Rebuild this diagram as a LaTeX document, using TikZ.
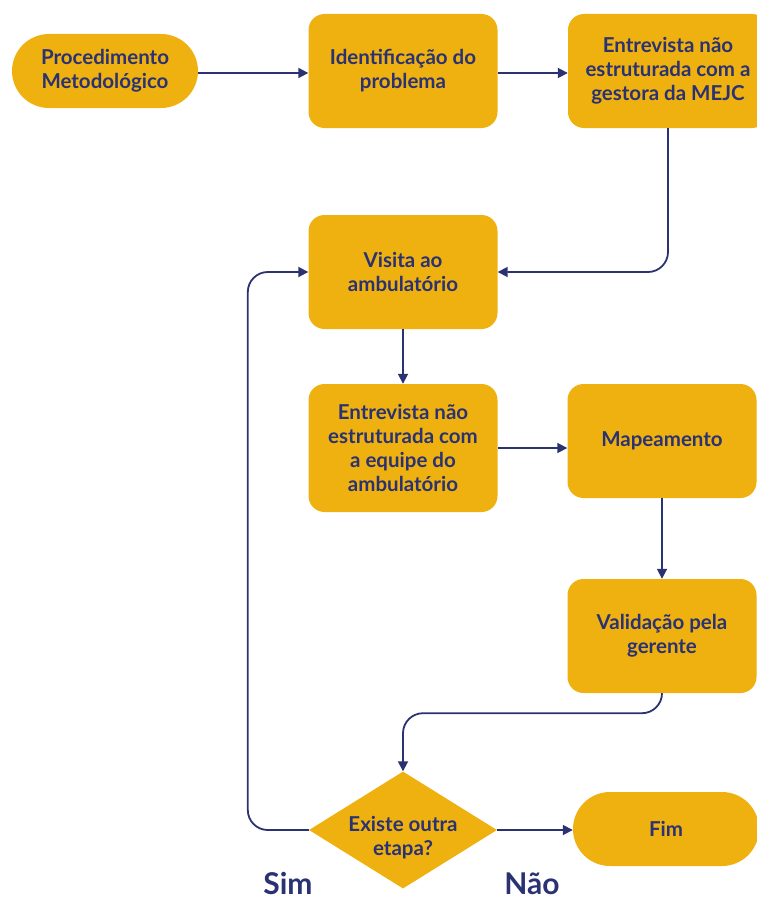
\documentclass[tikz,border=0pt]{standalone}
\usepackage{fontspec}
\setmainfont{Lato}
\usetikzlibrary{shapes.geometric,arrows.meta}
\definecolor{boxfill}{HTML}{EFB110}
\definecolor{ink}{HTML}{2B3272}

\begin{document}
\begin{tikzpicture}[x=1pt,y=-1pt,
  words/.style={text=ink, font=\bfseries\fontsize{20.5}{24}\selectfont, align=center, inner sep=0pt},
  base/.style={words, fill=boxfill},
  stepbox/.style={base, rounded corners=16pt, minimum width=189pt, minimum height=114pt},
  term/.style={base, rounded corners=37pt, minimum width=186pt, minimum height=74pt},
  choice/.style={fill=boxfill, diamond, inner sep=0pt, minimum width=188pt, minimum height=117pt},
  link/.style={draw=ink, line width=1.8pt, -{Triangle[length=10pt,width=10pt]}, rounded corners=20pt},
  answer/.style={text=ink, font=\bfseries\fontsize{30}{32}\selectfont, anchor=base, inner sep=0pt}]
  \useasboundingbox (0,0) rectangle (757,899);
  \clip (0,0) rectangle (757,899);

  % boxes
  \node[term] (start) at (105,71) {Procedimento\\Metodológico};
  \node[stepbox] (ident) at (403,71) {Identificação do\\problema};
  \node[stepbox, minimum width=200pt] (mejc) at (668,71) {Entrevista não\\estruturada com a\\gestora da MEJC};
  \node[stepbox] (visita) at (403,272) {Visita ao\\ambulatório};
  \node[stepbox, minimum height=128pt] (equipe) at (403,448) {Entrevista não\\estruturada com\\a equipe do\\ambulatório};
  \node[stepbox] (mapa) at (662,441) {Mapeamento};
  \node[stepbox] (valid) at (662,636) {Validação pela\\gerente};
  \node[choice, label={[words, yshift=-8pt]center:Existe outra\\etapa?}] (decide) at (403,830) {};
  \node[term, minimum width=186pt] (fim) at (666,829) {Fim};

  % answer labels
  \node[answer] (sim) at (288,894) {Sim};
  \node[answer] (nao) at (532,894) {Não};

  % connectors
  \draw[link] (start.east) ++(0,2) -- (ident.west |- 0,73);
  \draw[link] (ident.east) ++(0,2) -- (mejc.west |- 0,73);
  \draw[link] (mejc.south) |- (visita.east);
  \draw[link] (visita) -- (equipe);
  \draw[link] (equipe.east) -- (mapa.west |- equipe.east);
  \draw[link] (mapa) -- (valid);
  \draw[link] (valid.south) -- ++(0,20) -| (decide.north);
  \draw[link] (decide.west) -- ++(-61,0) |- (visita.west);
  \draw[link] (decide.east) -- (fim.west |- decide.east);
\end{tikzpicture}
\end{document}
